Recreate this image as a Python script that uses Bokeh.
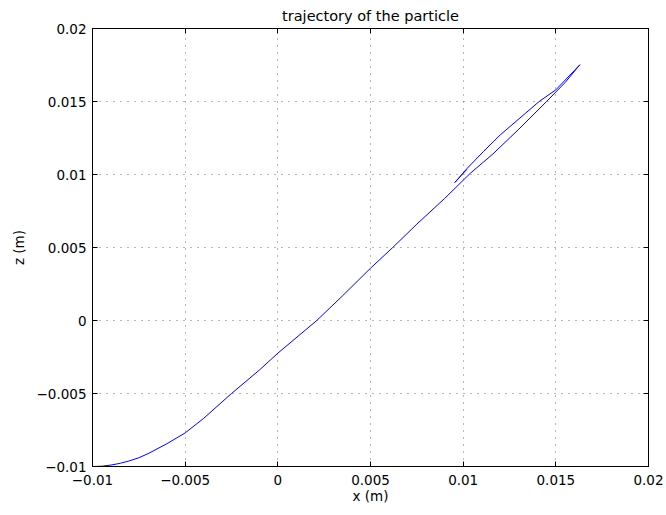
from bokeh.plotting import figure
from bokeh.models import Range1d, FixedTicker, LinearAxis, CustomLabelingPolicy
from bokeh.embed import file_html
from bokeh.resources import INLINE

# --- data ---
# ascending part of the trajectory
x_up = [-0.0100, -0.0095, -0.0090, -0.0085, -0.0080, -0.0075, -0.0070, -0.0060,
        -0.0050, -0.0040, -0.0025, -0.0010, 0.0000, 0.0021, 0.0035, 0.0050,
        0.0062, 0.0075, 0.0090, 0.0104, 0.0116, 0.0130, 0.0145, 0.0155, 0.0163]
z_up = [-0.0100, -0.00998, -0.00990, -0.00978, -0.00961, -0.00940, -0.00912, -0.00845,
        -0.0077, -0.0067, -0.0050, -0.0034, -0.00224, 0.0000, 0.0017, 0.00358,
        0.0050, 0.0066, 0.00836, 0.0101, 0.0114, 0.0131, 0.0150, 0.0163, 0.01752]
# descending part (back towards the tip)
x_down = [0.0150, 0.0141, 0.0120, 0.0111, 0.0102, 0.00955]
z_down = [0.0158, 0.0150, 0.01271, 0.01158, 0.0104, 0.00945]
# short return after the tip
x_back = [0.0098, 0.0102]
z_back = [0.0098, 0.01035]

x_ticks = [-0.01, -0.005, 0, 0.005, 0.01, 0.015, 0.02]
x_tick_labels = ["\u22120.01", "\u22120.005", "0", "0.005", "0.01", "0.015", "0.02"]
y_ticks = [-0.01, -0.005, 0, 0.005, 0.01, 0.015, 0.02]
y_tick_labels = ["\u22120.01", "\u22120.005", "0", "0.005", "0.01", "0.015", "0.02"]

xs = x_up + x_down + x_back
zs = z_up + z_down + z_back

FONT = "DejaVu Sans"
TICK_SIZE = "13.5px"

p = figure(frame_width=556, frame_height=438,
           min_border_left=92, min_border_right=18,
           min_border_top=27, min_border_bottom=50,
           x_range=Range1d(-0.01, 0.02), y_range=Range1d(-0.01, 0.02),
           output_backend="svg", toolbar_location=None,
           title="trajectory of the particle")

p.title.align = "center"
p.title.text_font = FONT
p.title.text_font_size = "14.5px"
p.title.text_font_style = "normal"
p.title.text_color = "black"
p.title.standoff = 10

p.line(xs, zs, line_color="#0000ff", line_width=1)

def style_axis(ax, ticks, labels, show_labels=True):
    ax.ticker = FixedTicker(ticks=ticks)
    ax.major_label_overrides = {(0 if t == 0 else t): l for t, l in zip(ticks, labels)}
    ax.major_tick_in = 5
    ax.major_tick_out = 0
    ax.minor_tick_in = 0
    ax.minor_tick_out = 0
    ax.major_tick_line_color = "black"
    ax.axis_line_color = "black"
    ax.major_label_text_font = FONT
    ax.major_label_text_font_size = TICK_SIZE
    ax.major_label_text_color = "black"
    ax.axis_label_text_font = FONT
    ax.axis_label_text_font_size = TICK_SIZE
    ax.axis_label_text_font_style = "normal"
    ax.axis_label_text_color = "black"
    if not show_labels:
        ax.major_label_text_font_size = "0px"
        ax.major_label_standoff = 0
        ax.major_label_policy = CustomLabelingPolicy(code="return new Set()")

xa = p.xaxis[0]
ya = p.yaxis[0]
style_axis(xa, x_ticks, x_tick_labels)
style_axis(ya, y_ticks, y_tick_labels)
xa.axis_label = "x (m)"
ya.axis_label = "z (m)"
xa.major_label_standoff = 8
xa.axis_label_standoff = 0
ya.major_label_standoff = 6
ya.axis_label_standoff = 7

top = LinearAxis()
right = LinearAxis()
style_axis(top, x_ticks, x_tick_labels, show_labels=False)
style_axis(right, y_ticks, y_tick_labels, show_labels=False)
p.add_layout(top, "above")
p.add_layout(right, "right")

p.xgrid.ticker = FixedTicker(ticks=x_ticks)
p.ygrid.ticker = FixedTicker(ticks=y_ticks)
for g in (p.xgrid, p.ygrid):
    g.grid_line_color = "#333333"
    g.grid_line_alpha = 0.7
    g.grid_line_dash = "1 6"
    g.grid_line_width = 1

p.outline_line_color = "black"
p.outline_line_alpha = 1
p.background_fill_color = "white"
p.border_fill_color = "white"

open("out.html", "w").write(file_html(p, INLINE))
